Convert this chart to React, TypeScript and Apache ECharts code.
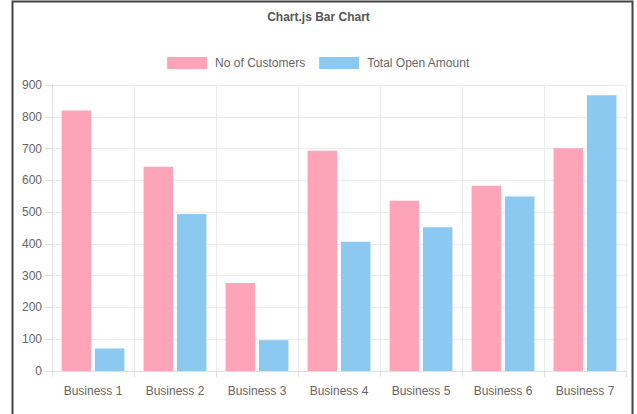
import React, { useEffect, useRef } from "react";
import * as echarts from "echarts";

const categories = ["Business 1", "Business 2", "Business 3", "Business 4", "Business 5", "Business 6", "Business 7"];
const customers = [820, 643, 277, 693, 536, 583, 701];
const openAmount = [71, 494, 97, 407, 452, 549, 868];
const yTicks = { min: 0, max: 900, interval: 100 };

export default function App() {
  const ref = useRef<HTMLDivElement>(null);
  useEffect(() => {
    if (!ref.current) return;
    const chart = echarts.init(ref.current, null, { renderer: "svg" });
    const font = "'Liberation Sans', Arial, sans-serif";
    chart.setOption({
      animation: false,
      backgroundColor: "#ffffff",
      textStyle: { fontFamily: font },
      title: {
        text: "Chart.js Bar Chart",
        left: "center",
        top: 6,
        textStyle: { fontSize: 12, fontWeight: "bold", color: "#555", fontFamily: font },
      },
      legend: {
        top: 52,
        left: "center",
        itemWidth: 40,
        itemHeight: 12,
        itemGap: 14,
        icon: "rect",
        textStyle: { fontSize: 12, color: "#666", fontFamily: font, padding: [0, 0, 0, 3] },
        data: ["No of Customers", "Total Open Amount"],
      },
      grid: { left: 52, right: 11, top: 85, bottom: 43, containLabel: false },
      xAxis: {
        type: "category",
        data: categories,
        axisLine: { show: true, lineStyle: { color: "#e0e0e0" } },
        axisTick: { show: true, length: 6, lineStyle: { color: "#e0e0e0" } },
        splitLine: { show: true, lineStyle: { color: "#ececec" } },
        axisLabel: { fontSize: 12, color: "#666", margin: 14, fontFamily: font },
      },
      yAxis: {
        type: "value",
        min: yTicks.min,
        max: yTicks.max,
        interval: yTicks.interval,
        axisLine: { show: true, lineStyle: { color: "#e0e0e0" } },
        axisTick: { show: true, length: 7, lineStyle: { color: "#e0e0e0" } },
        splitLine: { show: true, lineStyle: { color: "#ececec" } },
        axisLabel: { fontSize: 12, color: "#666", margin: 10, fontFamily: font },
      },
      series: [
        {
          name: "No of Customers",
          type: "bar",
          data: customers,
          barWidth: "36%",
          barGap: "13%",
          itemStyle: { color: "#fda4b8" },
        },
        {
          name: "Total Open Amount",
          type: "bar",
          data: openAmount,
          barWidth: "36%",
          itemStyle: { color: "#8cc9f1" },
        },
      ],
      graphic: [
        {
          type: "polyline",
          silent: true,
          shape: { points: [[12.5, 414], [12.5, 1.5], [632.5, 1.5], [632.5, 414]] },
          style: { stroke: "#444", lineWidth: 2, fill: "none" },
        },
      ],
    });
    return () => chart.dispose();
  }, []);
  return (
    <div
      ref={ref}
      style={{ position: "fixed", left: 0, top: 0, width: 637, height: 414 }}
    />
  );
}
